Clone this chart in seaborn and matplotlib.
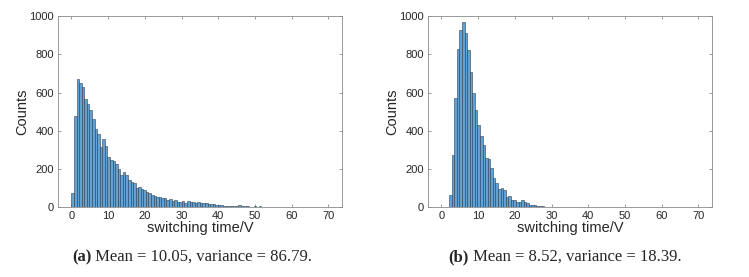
import numpy as np
import pandas as pd
import seaborn as sns
import matplotlib.pyplot as plt

# bin counts, bin width 0.7 starting at 0
BIN_WIDTH = 0.7
counts_a = [73, 478, 670, 652, 630, 565, 542, 507, 461, 408, 384, 314, 356, 321, 262, 248, 242, 225, 199, 170,
            183, 171, 143, 134, 125, 99, 108, 94, 91, 82, 73, 64, 59, 56, 52, 50, 47, 38, 42, 35,
            38, 30, 29, 31, 24, 33, 30, 30, 25, 28, 22, 20, 23, 18, 15, 18, 14, 12, 10, 8,
            9, 7, 8, 6, 5, 11, 8, 5, 6, 4, 4, 5, 3, 5, 2, 2, 3, 1, 2, 4,
            2, 1, 2, 1, 1, 3, 1, 1, 2, 0, 1, 1, 0, 1, 0, 0, 1, 0, 0, 1]
counts_b = [0, 0, 0, 66, 275, 571, 830, 928, 968, 912, 822, 710, 598, 508, 432, 372, 328, 260, 255, 205,
            155, 128, 97, 100, 90, 55, 60, 40, 36, 30, 28, 40, 28, 20, 14, 12, 10, 8, 8, 5,
            4, 3, 4, 2, 2, 1, 2, 1, 1, 0, 1, 0, 1, 0, 0, 0, 1, 0, 0, 0,
            0, 0, 0, 0, 0, 0, 0, 0, 0, 0, 0, 0, 0, 0, 0, 0, 0, 0, 0, 0,
            0, 0, 0, 0, 0, 0, 0, 0, 0, 0, 0, 0, 0, 0, 0, 0, 0, 0, 0, 0]
captions = [("(a)", " Mean = 10.05, variance = 86.79."),
            ("(b)", " Mean = 8.52, variance = 18.39.")]
x_ticks = [0, 10, 20, 30, 40, 50, 60, 70]
y_ticks = [0, 200, 400, 600, 800, 1000]

sns.set_style("white")
plt.rcParams['font.family'] = ['Liberation Sans', 'DejaVu Sans']

BAR_COLOR = '#62a2d2'
EDGE_COLOR = '#2b3f55'
FRAME_COLOR = '#8a8a8a'

fig = plt.figure(figsize=(7.49, 2.77), dpi=100)
axes = [fig.add_axes([0.0778, 0.2516, 0.379, 0.690]),
        fig.add_axes([0.5718, 0.2516, 0.379, 0.690])]
caption_left = [0.096, 0.599]

renderer = fig.canvas.get_renderer()
for ax, counts, (tag, rest), cx in zip(axes, [counts_a, counts_b], captions, caption_left):
    edges = (np.arange(len(counts) + 1) * BIN_WIDTH).tolist()
    df = pd.DataFrame({'x': np.array(edges[:-1]) + BIN_WIDTH / 2, 'n': counts})
    sns.histplot(data=df, x='x', weights='n', bins=edges, ax=ax,
                 color=BAR_COLOR, edgecolor=EDGE_COLOR, linewidth=0.4, alpha=1)
    ax.set_xlim(-3.6, 73.8)
    ax.set_ylim(0, 1000)
    ax.set_xticks(x_ticks)
    ax.set_yticks(y_ticks)
    ax.tick_params(direction='in', length=2.5, width=0.6, colors=FRAME_COLOR,
                   labelcolor='#262626', labelsize=8, top=True, right=True,
                   bottom=True, left=True, pad=3)
    for sp in ax.spines.values():
        sp.set_visible(True)
        sp.set_color(FRAME_COLOR)
        sp.set_linewidth(0.6)
    ax.set_xlabel("switching time/V", fontsize=10.5, color='#262626', labelpad=0)
    ax.set_ylabel("Counts", fontsize=10.5, color='#262626', labelpad=0)

    # caption under each panel: bold tag, then the plain text right after it
    t = fig.text(cx, 0.072, tag, fontweight='bold', ha='left', va='center',
                 family=['Liberation Serif'], fontsize=12)
    bb = t.get_window_extent(renderer=renderer)
    fig.text(bb.x1 / fig.bbox.width, 0.072, rest, ha='left', va='center',
             family=['Liberation Serif'], fontsize=12)

fig.savefig("out.png", dpi=100)
